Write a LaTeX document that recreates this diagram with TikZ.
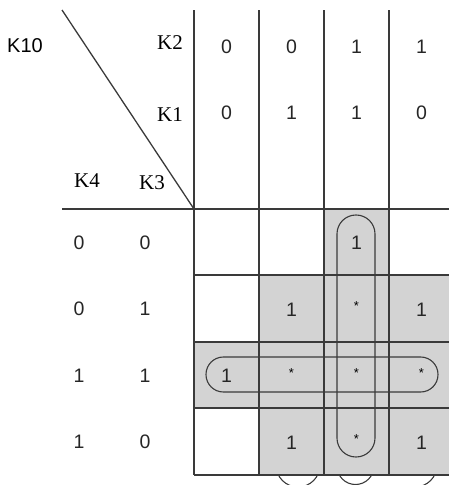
\documentclass[tikz,border=0pt]{standalone}
\usepackage{fontspec}
\setmainfont{Liberation Sans}
\newfontfamily\serifK{Liberation Serif}
\definecolor{cellgray}{HTML}{D3D3D3}
\definecolor{linegray}{HTML}{3A3A3A}
\begin{document}
\begin{tikzpicture}[x=1pt,y=-1pt,
  gridline/.style={draw=linegray, line width=1.3pt},
  loopline/.style={draw=linegray, line width=1.1pt},
  num/.style={font=\fontsize{19.5}{19.5}\selectfont, inner sep=0pt, text=black!85},
  kser/.style={font=\serifK\fontsize{21}{21}\selectfont, inner sep=0pt},
  ksans/.style={font=\fontsize{20}{20}\selectfont, inner sep=0pt},
  starlbl/.style={font=\fontsize{13}{13}\selectfont, inner sep=0pt}]
\useasboundingbox (0,0) rectangle (449,485);
\clip (0,0) rectangle (449,485);
% shaded cells
\foreach \x/\y in {324/209, 259/275, 324/275, 389/275, 194/342, 259/342, 324/342, 389/342, 259/408, 324/408, 389/408}
  \fill[cellgray] (\x,\y) rectangle ++(65,66.5);
% grid
\draw[gridline] (62,10) -- (194,209);
\foreach \x in {194,259,324,389}
  \draw[gridline] (\x,10) -- (\x,475);
\draw[gridline] (62,209) -- (449,209);
\foreach \y in {275,342,408,475}
  \draw[gridline] (194,\y) -- (449,\y);
% loops
\draw[loopline, rounded corners=18.9pt] (337,215) rectangle (375,457);
\draw[loopline, rounded corners=17.4pt] (206,357) rectangle (438,392);
% bottom arcs
\begin{scope}
  \clip (0,476) rectangle (449,485);
  \draw[loopline] (298,465) circle (22pt);
  \draw[loopline] (355.5,466) circle (18.5pt);
  \clip (412,476) rectangle (449,485);
  \draw[loopline] (415,465) circle (22pt);
\end{scope}
% labels
\node[ksans] (k10) at (25,46) {K10};
\node[kser] (k2) at (170,43) {K2};
\node[kser] (k1) at (170,115) {K1};
\node[kser] (k4) at (87,181) {K4};
\node[kser] (k3) at (152,183) {K3};
% header numbers
\foreach \i/\x/\a/\b in {1/226.5/0/0, 2/291.5/0/1, 3/356.5/1/1, 4/421.5/1/0} {
  \node[num] (top\i) at (\x,47) {\a};
  \node[num] (mid\i) at (\x,113) {\b};
}
% row labels
\foreach \i/\y/\a/\b in {1/242.5/0/0, 2/309/0/1, 3/375.5/1/1, 4/442/1/0} {
  \node[num] (ra\i) at (79,\y) {\a};
  \node[num] (rb\i) at (145,\y) {\b};
}
% cell contents
\node[num] (c13) at (356.5,243) {1};
\node[num] (c22) at (291.5,309.5) {1};
\node[starlbl] (c23) at (356.5,306.5) {*};
\node[num] (c24) at (421.5,309.5) {1};
\node[num] (c31) at (226.5,376) {1};
\node[starlbl] (c32) at (291.5,373.5) {*};
\node[starlbl] (c33) at (356.5,373.5) {*};
\node[starlbl] (c34) at (421.5,373.5) {*};
\node[num] (c42) at (291.5,442.5) {1};
\node[starlbl] (c43) at (356.5,439.5) {*};
\node[num] (c44) at (421.5,442.5) {1};
\end{tikzpicture}
\end{document}
